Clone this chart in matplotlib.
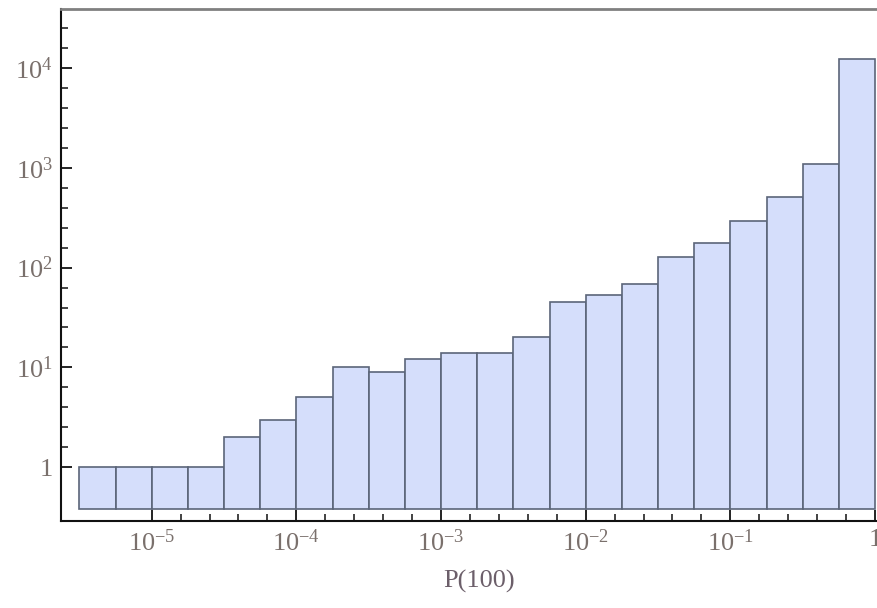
import numpy as np
import matplotlib
matplotlib.use("Agg")
import matplotlib.pyplot as plt
from matplotlib.ticker import FixedLocator, NullFormatter

plt.rcParams["font.family"] = ["Liberation Serif", "DejaVu Serif"]
plt.rcParams["mathtext.fontset"] = "custom"
plt.rcParams["mathtext.rm"] = "Liberation Serif"
plt.rcParams["mathtext.it"] = "Liberation Serif:italic"
plt.rcParams["mathtext.bf"] = "Liberation Serif:bold"

# Histogram of P(100): bin edges in log10 units (quarter-decade bins) and counts
log_edges = [-5.5, -5.25, -5.0, -4.75, -4.5, -4.25, -4.0, -3.75, -3.5, -3.25, -3.0,
             -2.75, -2.5, -2.25, -2.0, -1.75, -1.5, -1.25, -1.0, -0.75, -0.5, -0.25, 0.0]
counts = [1, 1, 1, 1, 2, 3, 5, 10, 9, 12, 14, 14, 20, 45, 53, 68, 127, 177, 293, 514, 1100, 12280]

x_major = [1e-5, 1e-4, 1e-3, 1e-2, 1e-1, 1.0]
x_labels = [r"$\mathregular{10^{-5}}$", r"$\mathregular{10^{-4}}$", r"$\mathregular{10^{-3}}$",
            r"$\mathregular{10^{-2}}$", r"$\mathregular{10^{-1}}$", "1"]
y_major = [1, 10, 100, 1000, 10000]
y_labels = ["1", r"$\mathregular{10^{1}}$", r"$\mathregular{10^{2}}$",
            r"$\mathregular{10^{3}}$", r"$\mathregular{10^{4}}$"]

label_color = "#7a706c"
fill_color = "#d5defb"
edge_color = "#5b6579"
baseline = 0.38

fig = plt.figure(figsize=(8.78, 6.08), dpi=100)
W, H = 878, 608
left_px, right_px, top_px, bottom_px = 61, 897, 9, 521
ax = fig.add_axes([left_px / W, 1 - bottom_px / H,
                   (right_px - left_px) / W, (bottom_px - top_px) / H])

edges = 10.0 ** np.array(log_edges)
widths = np.diff(edges)
heights = np.array(counts, dtype=float) - baseline
ax.bar(edges[:-1], heights, width=widths, align="edge", bottom=baseline,
       color=fill_color, edgecolor=edge_color, linewidth=1.2)

ax.set_xscale("log")
ax.set_yscale("log")
ax.set_xlim(10 ** -5.627, 10 ** 0.152)
ax.set_ylim(10 ** -0.54, 10 ** 4.593)

ax.xaxis.set_major_locator(FixedLocator(x_major))
ax.xaxis.set_ticklabels(x_labels)
x_minor = [10 ** (k * 0.2) for k in range(-25, 1) if k % 5 != 0]
ax.xaxis.set_minor_locator(FixedLocator(x_minor))
ax.xaxis.set_minor_formatter(NullFormatter())

ax.yaxis.set_major_locator(FixedLocator(y_major))
ax.yaxis.set_ticklabels(y_labels)
y_minor = [10 ** (k * 0.2) for k in range(0, 23) if k % 5 != 0]
ax.yaxis.set_minor_locator(FixedLocator(y_minor))
ax.yaxis.set_minor_formatter(NullFormatter())

ax.tick_params(which="both", direction="in", top=False, right=False,
               colors="#222222", labelcolor=label_color, labelsize=19)
ax.tick_params(which="major", length=8, width=1.4)
ax.tick_params(which="minor", length=5, width=1.2)
ax.tick_params(axis="x", which="major", pad=6)
ax.tick_params(axis="y", which="major", pad=6)

ax.spines["right"].set_visible(False)
ax.spines["left"].set_color("#111111")
ax.spines["left"].set_linewidth(1.5)
ax.spines["bottom"].set_color("#111111")
ax.spines["bottom"].set_linewidth(1.5)
ax.spines["top"].set_color("#808080")
ax.spines["top"].set_linewidth(2.0)

ax.set_xlabel("P(100)", fontsize=19, color="#6c5f6a", labelpad=10)

fig.savefig("out.png", dpi=100)
